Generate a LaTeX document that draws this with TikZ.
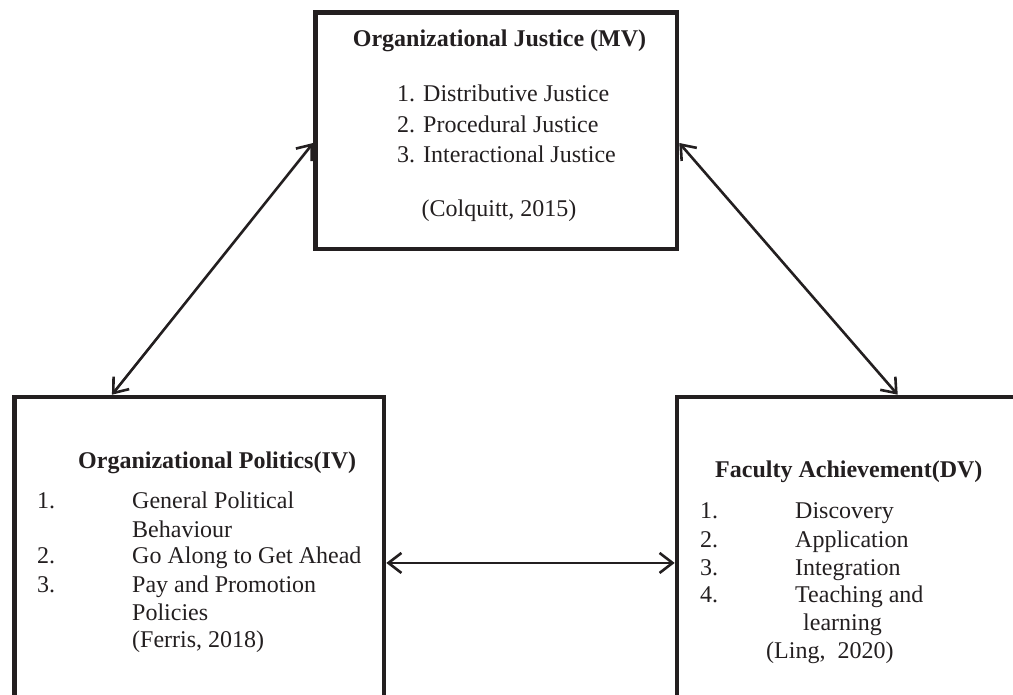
\documentclass[tikz,border=0pt]{standalone}
\usepackage{fontspec}
\setmainfont{Liberation Serif}
\usetikzlibrary{arrows.meta,calc}
\definecolor{ink}{HTML}{231F20}
\begin{document}
\begin{tikzpicture}[x=1pt,y=-1pt,
  frame/.style={draw=ink, line width=4.6pt, inner sep=0pt, rectangle},
  txt/.style={text=ink, font=\fontsize{24}{28}\selectfont, inner sep=0pt, anchor=base west},
  head/.style={txt, font=\fontsize{24}{28}\selectfont\bfseries},
  link/.style={draw=ink, line width=2.6pt, >={Straight Barb[length=13pt,width=20pt]}, <->}]
\path[use as bounding box, clip] (0,0) rectangle (1013,695);

% the three construct boxes
\node[frame, minimum width=361.5pt, minimum height=236.5pt] (mv) at (496.25,130.75) {};
\node[frame, minimum width=369.5pt, minimum height=343pt] (iv) at (199.25,568.5) {};
\node[frame, minimum width=383pt, minimum height=343pt] (dv) at (868.5,568.5) {};

% mediating variable
\node[head, anchor=base] (mvtitle) at (499.5,47) {Organizational Justice (MV)};
\node[txt] (mv1) at (397,102) {1. Distributive Justice};
\node[txt] (mv2) at (397,133) {2. Procedural Justice};
\node[txt] (mv3) at (397,163) {3. Interactional Justice};
\node[txt, anchor=base] (mvref) at (499,217) {(Colquitt, 2015)};

% independent variable
\node[head] (ivtitle) at (78,468) {Organizational Politics(IV)};
\node[txt] (ivn1) at (37,508) {1.};
\node[txt] (iv1a) at (132,508) {General Political};
\node[txt] (iv1b) at (132,537) {Behaviour};
\node[txt] (ivn2) at (37,563) {2.};
\node[txt] (iv2) at (132,563) {Go Along to Get Ahead};
\node[txt] (ivn3) at (37,592) {3.};
\node[txt] (iv3a) at (132,592) {Pay and Promotion};
\node[txt] (iv3b) at (132,620) {Policies};
\node[txt] (ivref) at (132,647) {(Ferris, 2018)};

% dependent variable
\node[head] (dvtitle) at (715,477) {Faculty Achievement(DV)};
\node[txt] (dvn1) at (700,518) {1.};
\node[txt] (dv1) at (795,518) {Discovery};
\node[txt] (dvn2) at (700,547) {2.};
\node[txt] (dv2) at (795,547) {Application};
\node[txt] (dvn3) at (700,575) {3.};
\node[txt] (dv3) at (795,575) {Integration};
\node[txt] (dvn4) at (700,602) {4.};
\node[txt] (dv4a) at (795,602) {Teaching and};
\node[txt] (dv4b) at (803,630) {learning};
\node[txt] (dvref) at (766,658) {(Ling,\ \ 2020)};

% two-way relations
\draw[link] ([yshift=-12.25pt]mv.west) -- ([xshift=99.75pt]iv.north west);
\draw[link] ([yshift=-12.25pt]mv.east) -- ([xshift=223pt]dv.north west);
\draw[link] ([yshift=-168.25pt]iv.north east) -- ([yshift=-168.25pt]dv.north west);
\end{tikzpicture}
\end{document}
